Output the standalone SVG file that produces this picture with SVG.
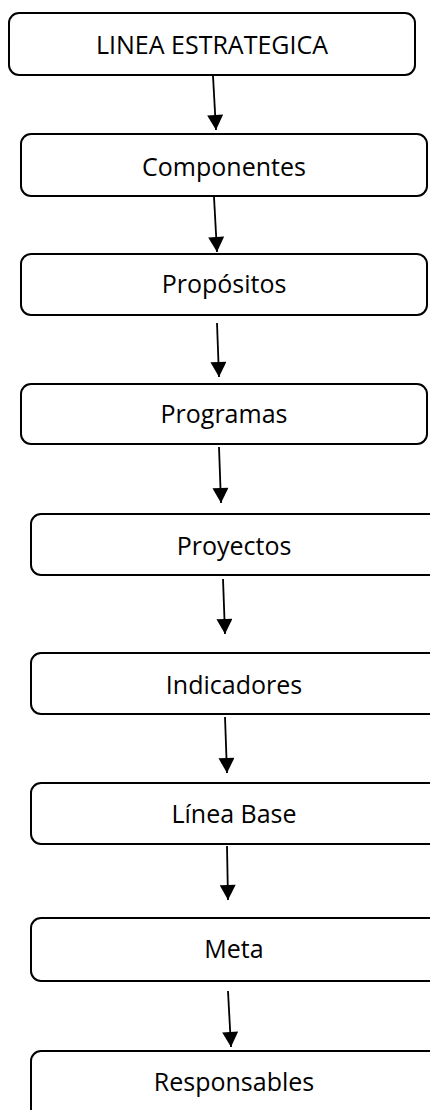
<svg xmlns="http://www.w3.org/2000/svg" width="430" height="1110" viewBox="0 0 430 1110">
<style>
.box{fill:#fff;stroke:#000;stroke-width:2}
.lbl{font-family:"Open Sans","Liberation Sans",sans-serif;font-size:25px;fill:#000;text-anchor:middle}
.conn{stroke:#000;stroke-width:1.8;fill:none}
</style>
<defs>
<marker id="ah" markerUnits="userSpaceOnUse" markerWidth="16" markerHeight="16" viewBox="0 0 15 16" refX="15" refY="8" orient="auto">
<path d="M0,0 L15,8 L0,16 z" fill="#000"/>
</marker>
</defs>
<rect width="430" height="1110" fill="#fff"/>
<g id="connectors">
<line class="conn" x1="213" y1="76" x2="216" y2="130" marker-end="url(#ah)"/>
<line class="conn" x1="214" y1="197" x2="217" y2="252" marker-end="url(#ah)"/>
<line class="conn" x1="217" y1="323" x2="219" y2="377" marker-end="url(#ah)"/>
<line class="conn" x1="219" y1="447" x2="221" y2="503" marker-end="url(#ah)"/>
<line class="conn" x1="223" y1="579" x2="225" y2="634" marker-end="url(#ah)"/>
<line class="conn" x1="225" y1="717" x2="227" y2="773" marker-end="url(#ah)"/>
<line class="conn" x1="227" y1="846" x2="228" y2="900" marker-end="url(#ah)"/>
<line class="conn" x1="228" y1="991" x2="231" y2="1047" marker-end="url(#ah)"/>
</g>
<g id="n1"><rect class="box" x="9" y="13" width="406" height="62" rx="10"/><text class="lbl" x="212" y="54">LINEA ESTRATEGICA</text></g>
<g id="n2"><rect class="box" x="21" y="134" width="406" height="62" rx="10"/><text class="lbl" x="224" y="176">Componentes</text></g>
<g id="n3"><rect class="box" x="21" y="254" width="406" height="61" rx="10"/><text class="lbl" x="224" y="293">Propósitos</text></g>
<g id="n4"><rect class="box" x="21" y="384" width="406" height="60" rx="10"/><text class="lbl" x="224" y="423">Programas</text></g>
<g id="n5"><rect class="box" x="31" y="514" width="410" height="61" rx="10"/><text class="lbl" x="234" y="555">Proyectos</text></g>
<g id="n6"><rect class="box" x="31" y="653" width="410" height="61" rx="10"/><text class="lbl" x="234" y="694">Indicadores</text></g>
<g id="n7"><rect class="box" x="31" y="783" width="410" height="61" rx="10"/><text class="lbl" x="234" y="823">Línea Base</text></g>
<g id="n8"><rect class="box" x="31" y="918" width="410" height="63" rx="10"/><text class="lbl" x="234" y="958">Meta</text></g>
<g id="n9"><rect class="box" x="31" y="1051" width="410" height="75" rx="10"/><text class="lbl" x="234" y="1091">Responsables</text></g>
</svg>
